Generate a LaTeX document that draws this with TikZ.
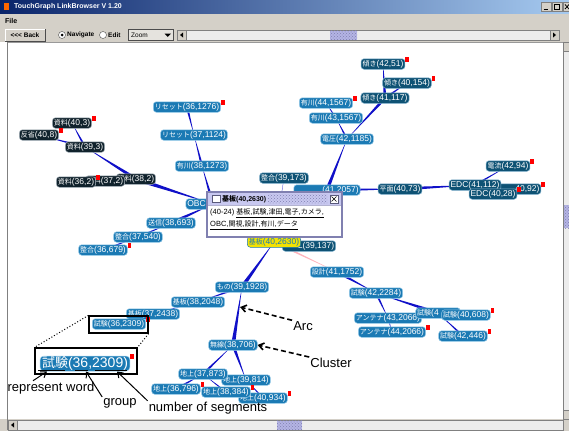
\documentclass[tikz,border=0pt]{standalone}
\usepackage{fontspec}
\setmainfont{Liberation Sans}
\newfontfamily\jpfont{Noto Sans CJK JP}
\usepackage{tikz}
\usetikzlibrary{calc,patterns,arrows.meta}
\definecolor{tgblue}{HTML}{1B7AB4}
\definecolor{tgrim}{HTML}{9ACDEB}
\definecolor{tgteal}{HTML}{0E5274}
\definecolor{tgtealrim}{HTML}{7FB0CC}
\definecolor{tgblack}{HTML}{10222C}
\definecolor{tgblackrim}{HTML}{A8B4BC}
\definecolor{tgyellow}{HTML}{F4E200}
\definecolor{tglink}{HTML}{1010C8}
\definecolor{tgpink}{HTML}{FFB4BC}
\definecolor{winbg}{HTML}{D4D0C8}
\definecolor{titleleft}{HTML}{0A246A}
\definecolor{titleright}{HTML}{A6CAF0}
\definecolor{popborder}{HTML}{8080B0}
\definecolor{poptitle}{HTML}{C8C8F0}
\definecolor{thumb}{HTML}{B4B4E4}
\newcommand{\jw}[1]{{\jpfont\fontsize{7}{8}\selectfont #1}}
\newcommand{\nodefont}{\fontsize{8.5}{10}\selectfont}
% tapered arc, thick end at #2
\newcommand{\tlink}[4][tglink]{\fill[#1] ($(#2.center)!#4pt!90:(#3.center)$) -- ($(#2.center)!#4pt!-90:(#3.center)$) -- (#3.center) -- cycle;}
\pgfdeclarelayer{chrome}
\pgfdeclarelayer{edges}
\pgfsetlayers{chrome,edges,main}

\begin{document}
\begin{tikzpicture}[x=1pt,y=-1pt,
  word/.style={rounded corners=3pt, fill=tgblue, draw=tgrim, line width=0.5pt, text=white,
    inner xsep=1.5pt, inner ysep=0pt, minimum height=10.5pt, font=\nodefont},
  tword/.style={word, fill=tgteal, draw=tgtealrim},
  kword/.style={word, fill=tgblack, draw=tgblackrim},
  redflag/.style={fill=red, inner sep=0pt, minimum width=3.5pt, minimum height=5pt},
  flagged/.style={append after command={(\tikzlastnode.north east) node[redflag, anchor=north west, yshift=2pt] {}}},
  btnfont/.style={font=\bfseries\fontsize{6.5}{8}\selectfont, inner sep=0pt},
  note/.style={font=\fontsize{13}{15}\selectfont, inner sep=1pt},
  pointer/.style={-{Straight Barb[length=5pt,width=7pt]}, line width=1pt},
  dashpointer/.style={pointer, dash pattern=on 5pt off 3pt, line width=1.6pt}]
\useasboundingbox (0,0) rectangle (569,431);

\begin{pgfonlayer}{chrome}
% window
\fill[winbg] (0,0) rectangle (569,431);
\shade[left color=titleleft, right color=titleright] (0,0) rectangle (569,13);
\fill[orange!80!red] (4,3) rectangle (9,10);
\node[anchor=west, text=white, btnfont, font=\bfseries\fontsize{7}{8}\selectfont] (wintitle) at (14,6.5) {TouchGraph LinkBrowser V 1.20};
\draw[fill=winbg, draw=gray] (541,2.5) rectangle (551,11);
\draw[line width=1pt] (543.5,9) -- (547.5,9);
\draw[fill=winbg, draw=gray] (552,2.5) rectangle (562,11);
\draw (554.5,4.5) rectangle (559.5,9);
\draw[fill=winbg, draw=gray] (563,2.5) rectangle (572,11);
\draw[line width=0.8pt] (565,4.5) -- (569,9) (565,9) -- (569,4.5);
% menu
\node[anchor=west, btnfont, font=\bfseries\fontsize{7}{8}\selectfont] (filemenu) at (5,20.5) {File};
% toolbar
\draw[fill=winbg, draw=gray!60!black] (5,29) rectangle (45,41);
\draw[white] (5,41) -- (5,29) -- (45,29);
\node[btnfont] (backbtn) at (25,35) {<{}<{}< Back};
\draw[fill=white, draw=gray!60!black] (62,35) circle (3.5);
\fill (62,35) circle (1.5);
\node[anchor=west, btnfont] (navlbl) at (67,35) {Navigate};
\draw[fill=white, draw=gray!60!black] (103,35) circle (3.5);
\node[anchor=west, btnfont] (editlbl) at (108,35) {Edit};
\draw[fill=winbg!60!white, draw=gray!60!black] (128,29.5) rectangle (173,40.5);
\node[anchor=west, btnfont, font=\fontsize{6.5}{8}\selectfont] (zoomlbl) at (131,35) {Zoom};
\fill (164.5,33.5) -- (171,33.5) -- (167.75,37) -- cycle;
\fill[gray!15] (177,30) rectangle (559,40);
\draw[gray] (177,30) rectangle (559,40);
\draw[fill=winbg, draw=gray] (177,30) rectangle (186,40);
\fill (183,32.5) -- (183,37.5) -- (180,35) -- cycle;
\draw[fill=winbg, draw=gray] (550,30) rectangle (559,40);
\fill (553,32.5) -- (553,37.5) -- (556,35) -- cycle;
\fill[thumb] (330,30.5) rectangle (357,39.5);
\fill[pattern=crosshatch dots, pattern color=popborder] (330,30.5) rectangle (357,39.5);
% canvas
\fill[white] (0,42) rectangle (563,419);
\draw[gray] (7.5,42) -- (7.5,430);
\draw[gray!80] (7.5,42) -- (563,42);
% scrollbars
\fill[gray!15] (563,42) rectangle (569,419);
\draw[gray] (563,42) -- (563,430);
\draw[fill=winbg, draw=gray] (563.5,42.5) rectangle (570,51);
\draw[fill=winbg, draw=gray] (563.5,410) rectangle (570,419);
\fill[thumb] (564,205) rectangle (569,228);
\fill[pattern=crosshatch dots, pattern color=popborder] (564,205) rectangle (569,228);
\fill[gray!15] (8,420) rectangle (563,430);
\draw[gray] (8,420) rectangle (563,430);
\draw[fill=winbg, draw=gray] (8,420) rectangle (17,430);
\fill (14,422.5) -- (14,427.5) -- (11,425) -- cycle;
\fill[thumb] (277,420.5) rectangle (302,429.5);
\fill[pattern=crosshatch dots, pattern color=popborder] (277,420.5) rectangle (302,429.5);
\end{pgfonlayer}

% 資料 cluster
\node[kword] (s382) at (136,179) {\jw{資料}(38,2)};
\node[kword] (s372) at (105,181) {\jw{資料}(37,2)};
\node[kword, flagged] (s362) at (76,182) {\jw{資料}(36,2)};
\node[kword, flagged] (s403) at (72,123) {\jw{資料}(40,3)};
\node[kword, flagged] (h408) at (39,135) {\jw{反省}(40,8)};
\node[kword] (s393) at (85,147) {\jw{資料}(39,3)};

% OBC side
\node[word] (obc) at (213,204) {OBC(\hspace*{30pt}};
\node[word] (sou) at (171,223) {\jw{送信}(38,693)};
\node[word] (sei37) at (138,237) {\jw{整合}(37,540)};
\node[word, flagged] (sei36) at (103,250) {\jw{整合}(36,679)};
\node[word, flagged] (ris36) at (187,107) {\jw{リセット}(36,1276)};
\node[word] (ris37) at (194,135) {\jw{リセット}(37,1124)};
\node[word] (ari38) at (202,166) {\jw{有川}(38,1273)};

% 電圧 side
\node[tword] (sei39) at (284,178) {\jw{整合}(39,173)};
\node[word, flagged] (ari44) at (326,103) {\jw{有川}(44,1567)};
\node[word] (ari43) at (336,118) {\jw{有川}(43,1567)};
\node[word] (den42) at (347,139) {\jw{電圧}(42,1185)};
\node[tword, flagged] (kat42) at (383,64) {\jw{傾き}(42,51)};
\node[tword, flagged] (kat40) at (407,83) {\jw{傾き}(40,154)};
\node[tword] (kat41) at (385,98) {\jw{傾き}(41,117)};
\node[word] (n2057) at (327,190) {\hspace*{27pt}(41,2057)};
\node[tword] (hei) at (400,189) {\jw{平面}(40,73)};
\node[tword, flagged] (edc4092) at (517,189) {\phantom{EDC(}40,92)};
\node[tword] (edc41) at (475,185) {EDC(41,112)};
\node[tword, flagged] (edc4028) at (493,194) {EDC(40,28)};
\node[tword, flagged] (dry) at (508,166) {\jw{電流}(42,94)};

% centre
\node[tword] (l39) at (309,246) {\hspace*{14pt}L(39,137)};
\node[word, fill=tgyellow, draw=tgblue, text=tgblue] (kiban) at (274,242) {\jw{基板}(40,2630)};
\node[word] (sek) at (337,272) {\jw{設計}(41,1752)};
\node[word] (mono) at (242,287) {\jw{もの}(39,1928)};
\node[word] (kib38) at (198,302) {\jw{基板}(38,2048)};
\node[word] (kib37) at (153,314) {\jw{基板}(37,2438)};
\node[word, flagged] (sik36) at (119,324) {\jw{試験}(36,2309)};

% 無線 cluster
\node[word] (mus) at (233,345) {\jw{無線}(38,706)};
\node[word] (chi39) at (246,380) {\jw{地上}(39,814)};
\node[word] (chi37) at (203,374) {\jw{地上}(37,873)};
\node[word, flagged] (chi36) at (176,389) {\jw{地上}(36,796)};
\node[word, flagged] (chi40) at (263,398) {\jw{地上}(40,934)};
\node[word, flagged] (chi38) at (226,392) {\jw{地上}(38,384)};

% 試験 cluster
\node[word] (sik42) at (376,293) {\jw{試験}(42,2284)};
\node[word] (ant43) at (388,318) {\jw{アンテナ}(43,2066)};
\node[word, flagged] (ant44) at (392,332) {\jw{アンテナ}(44,2066)};
\node[word] (sik41) at (438,313) {\jw{試験}(4\hspace*{20pt}};
\node[word, flagged] (sik40) at (466,315) {\jw{試験}(40,608)};
\node[word, flagged] (sik446) at (463,336) {\jw{試験}(42,446)};

% arcs
\begin{pgfonlayer}{edges}
\tlink{s393}{s403}{1.2}
\tlink{s393}{h408}{1.2}
\tlink{s382}{s393}{1.8}
\tlink{s382}{obc}{2.2}
\tlink{sou}{obc}{1.8}
\tlink{sei37}{sou}{1}
\tlink{sei36}{sei37}{1}
\tlink{ris36}{ris37}{1.2}
\tlink{ari38}{ris37}{1.2}
\tlink{obc}{ari38}{1.6}
\tlink{kiban}{sei39}{0.8}
\tlink{n2057}{den42}{1.8}
\tlink{den42}{ari43}{1}
\tlink{ari43}{ari44}{0.8}
\tlink{kat41}{den42}{1.5}
\tlink{kat41}{kat42}{1.5}
\tlink{kat41}{kat40}{1.2}
\tlink{n2057}{hei}{1.8}
\tlink{hei}{edc41}{1.8}
\tlink{edc41}{dry}{1}
\tlink{mono}{kiban}{2}
\tlink[tgpink]{kiban}{sek}{1.2}
\tlink{sek}{sik42}{1.5}
\tlink{sik42}{ant43}{1.2}
\tlink{ant43}{ant44}{0.6}
\tlink{sik41}{sik42}{1.8}
\tlink{sik446}{sik41}{1}
\tlink{mono}{kib38}{1.2}
\tlink{kib37}{kib38}{0.6}
\tlink{mus}{mono}{2}
\tlink{chi37}{mus}{1.2}
\tlink{mus}{chi39}{1.6}
\tlink{chi36}{chi37}{1.2}
\tlink{chi38}{chi37}{0.8}
\tlink{chi40}{chi39}{0.8}
\end{pgfonlayer}

% popup window
\draw[popborder, line width=1.5pt, fill=white] (207,192) rectangle (342,237);
\fill[poptitle] (208,193) rectangle (341,205);
\fill[pattern=crosshatch dots, pattern color=popborder] (268,194.5) rectangle (327,203.5);
\draw[fill=white, draw=popborder!70!black] (212,195.5) rectangle (220,202.5);
\draw[fill=white, draw=popborder!70!black] (330,195) rectangle (338,203);
\draw (331.5,196.5) -- (336.5,201.5) (331.5,201.5) -- (336.5,196.5);
\draw[popborder!60] (208,205) -- (341,205);
\node[anchor=west, inner sep=0pt, font=\bfseries\fontsize{7}{8}\selectfont] (poptxt) at (222,199) {\jw{\bfseries 基板}(40,2630)};
\node[anchor=west, inner sep=0pt, font=\fontsize{7.5}{9}\selectfont] (popline1) at (210,213)
  {(40-24) \underline{\jw{基板},\jw{試験},\jw{津田},\jw{電子},\jw{カメラ},}};
\node[anchor=west, inner sep=0pt, font=\fontsize{7.5}{9}\selectfont] (popline2) at (210,225)
  {\underline{OBC,\jw{関視},\jw{設計},\jw{有川},\jw{データ}}};

% zoomed node
\node[draw=black, line width=1.2pt, minimum width=59pt, minimum height=17pt] (sbox) at (118.5,324.5) {};
\node[draw=black, line width=1.2pt, minimum width=102pt, minimum height=26pt] (bbox) at (86,361) {};
\draw[dotted, line width=1pt] (sbox.north west) -- (bbox.north west)
                              (sbox.south east) -- (bbox.north east);
\node[word, rounded corners=4pt, inner xsep=2pt, minimum height=15pt, font=\fontsize{14}{16}\selectfont, flagged] (bigword) at (85,363.5)
  {{\jpfont\fontsize{13}{15}\selectfont 試験}(36,2309)};
\draw[line width=1pt] (38,370.5) -- (65,370.5)
                      (75,370.5) -- (88,370.5)
                      (95,370.5) -- (127,370.5);

% labels
\node[note] (rw) at (51,388) {represent word};
\node[note] (grp) at (120,403) {group};
\node[note] (nos) at (208,408) {number of segments};
\node[note] (arclbl) at (303,326) {Arc};
\node[note] (clulbl) at (331,363) {Cluster};
\coordinate (wordpt) at (47,371.5);
\coordinate (grppt) at (86,371.5);
\coordinate (segpt) at (117,371.5);
\coordinate (arcpt) at (240,307);
\draw[pointer] ([xshift=-18pt]rw.north) -- (wordpt);
\draw[pointer] (grp.north west) -- (grppt);
\draw[pointer] (nos.north west) -- (segpt);
\draw[dashpointer] (arclbl.north west) -- (arcpt);
\draw[dashpointer] (clulbl.north west) -- (mus.east);

\end{tikzpicture}
\end{document}
